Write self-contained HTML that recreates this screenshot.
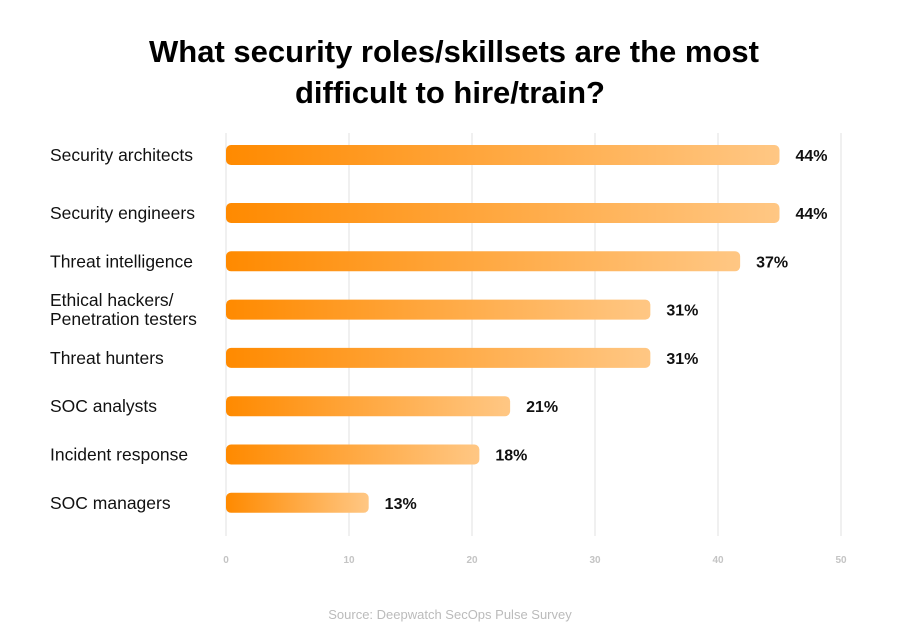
<!DOCTYPE html>
<html><head><meta charset="utf-8">
<style>
body{margin:0;background:#fff;}
svg{display:block;font-family:"Liberation Sans",sans-serif;}
</style></head>
<body>
<svg id="chart" width="900" height="639" viewBox="0 0 900 639">
<defs>
<linearGradient id="barGrad" x1="0" x2="1" y1="0" y2="0">
<stop offset="0" stop-color="#FF8A00"/>
<stop offset="1" stop-color="#FFC784"/>
</linearGradient>
</defs>
<text x="454" y="62" text-anchor="middle" font-size="31" font-weight="bold" fill="#000">What security roles/skillsets are the most</text>
<text x="450" y="103" text-anchor="middle" font-size="31" font-weight="bold" fill="#000">difficult to hire/train?</text>
<g id="grid"></g>
<g id="bars"></g>
<text x="450" y="619" text-anchor="middle" font-size="13" fill="#bbb">Source: Deepwatch SecOps Pulse Survey</text>
</svg>
<script>
const categories = ["Security architects","Security engineers","Threat intelligence","Ethical hackers/|Penetration testers","Threat hunters","SOC analysts","Incident response","SOC managers"];
const values = [45,45,41.8,34.5,34.5,23.1,20.6,11.6];
const valueLabels = ["44%","44%","37%","31%","31%","21%","18%","13%"];
const ticks = [0,10,20,30,40,50];

const NS="http://www.w3.org/2000/svg";
const x0=226, x1=841, xMax=50;
function xScale(v){return x0+(x1-x0)*v/xMax;}
function yScale(i){return i===0?155:213+(i-1)*48.3;}
function mk(tag,attrs,parent){const e=document.createElementNS(NS,tag);for(const k in attrs)e.setAttribute(k,attrs[k]);parent.appendChild(e);return e;}
const grid=document.getElementById('grid'), bars=document.getElementById('bars');
ticks.forEach(t=>{
  const l=mk('line',{x1:xScale(t),x2:xScale(t),y1:133,y2:536,stroke:'#ececec','stroke-width':1.5},grid);
  
  
  const tx=mk('text',{x:xScale(t),y:563,'text-anchor':'middle','font-size':10,'font-weight':'bold',fill:'#c4c4c4'},grid);
  tx.textContent=t;
  
  
});
categories.forEach((c,i)=>{
  const cy=yScale(i);
  const lines=c.split('|');
  const lab=mk('text',{x:50,'font-size':17.5,fill:'#111'},bars);
  
  
  lines.forEach((s,j)=>{
    const ts=mk('tspan',{x:50,y:cy+6+(j-(lines.length-1)/2)*19},lab);
    ts.textContent=s;
  });
  const r=mk('rect',{x:x0,y:cy-10,width:xScale(values[i])-x0,height:20,rx:5,fill:'url(#barGrad)'},bars);
  
  
  const v=mk('text',{x:xScale(values[i])+16,y:cy+6,'font-size':16,'font-weight':'bold',fill:'#111'},bars);
  v.textContent=valueLabels[i];
  
  
});
</script>
</body></html>
